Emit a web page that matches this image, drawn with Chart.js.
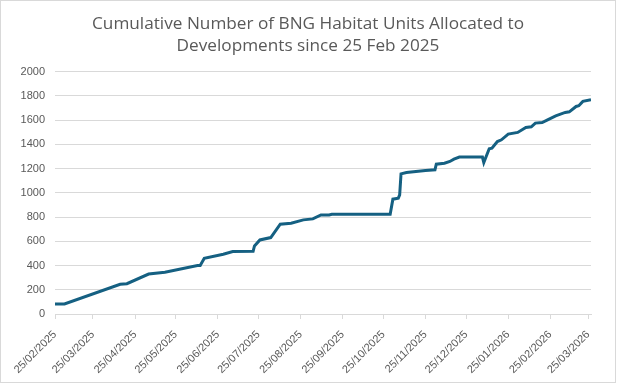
<!DOCTYPE html>
<html>
<head>
<meta charset="utf-8">
<script src="https://cdn.jsdelivr.net/npm/chart.js@4.4.1/dist/chart.umd.min.js"></script>
<style>
  html, body { margin: 0; padding: 0; background: #fff; }
  #wrap { width: 616px; height: 383px; border: 1px solid #d9d9d9; box-sizing: border-box; }
  canvas { display: block; }
</style>
</head>
<body>
<div id="wrap"><canvas id="chart" width="614" height="381"></canvas></div>
<script>
// allocation dates and cumulative habitat units
const dates = [
  '2025-02-25', '2025-03-04', '2025-04-14', '2025-04-19', '2025-05-05', '2025-05-17',
  '2025-06-10', '2025-06-12', '2025-06-15', '2025-06-29', '2025-07-06', '2025-07-21',
  '2025-07-22', '2025-07-26', '2025-08-03', '2025-08-10', '2025-08-18', '2025-08-27',
  '2025-09-03', '2025-09-09', '2025-09-15', '2025-09-17', '2025-10-30', '2025-11-01',
  '2025-11-05', '2025-11-06', '2025-11-07', '2025-11-11', '2025-11-18', '2025-11-25',
  '2025-12-02', '2025-12-03', '2025-12-09', '2025-12-13', '2025-12-16', '2025-12-20',
  '2026-01-06', '2026-01-07', '2026-01-11', '2026-01-13', '2026-01-17', '2026-01-20',
  '2026-01-25', '2026-02-01', '2026-02-07', '2026-02-11', '2026-02-14', '2026-02-19',
  '2026-02-23', '2026-03-01', '2026-03-08', '2026-03-11', '2026-03-16', '2026-03-18',
  '2026-03-21', '2026-03-27'
];
const units = [
  83, 83, 245, 250, 330, 345,
  400, 400, 460, 493, 515, 518,
  562, 611, 631, 741, 750, 777,
  785, 818, 818, 824, 824, 948,
  956, 983, 1157, 1168, 1176, 1184,
  1190, 1237, 1245, 1259, 1278, 1295,
  1295, 1250, 1364, 1369, 1424, 1438,
  1485, 1499, 1540, 1545, 1576, 1581,
  1603, 1636, 1664, 1669, 1713, 1719,
  1755, 1769
];
const tickLabels = [
  '25/02/2025', '25/03/2025', '25/04/2025', '25/05/2025', '25/06/2025', '25/07/2025',
  '25/08/2025', '25/09/2025', '25/10/2025', '25/11/2025', '25/12/2025', '25/01/2026',
  '25/02/2026', '25/03/2026'
];
const yTicks = [0, 200, 400, 600, 800, 1000, 1200, 1400, 1600, 1800, 2000];

const start = Date.UTC(2025, 1, 25);
const dayOf = (y, m, d) => Math.round((Date.UTC(y, m - 1, d) - start) / 86400000);
const isoDay = (s) => { const p = s.split('-').map(Number); return dayOf(p[0], p[1], p[2]); };
const labelDay = (s) => { const p = s.split('/').map(Number); return dayOf(p[2], p[1], p[0]); };

const points = dates.map((d, i) => ({ x: isoDay(d), y: units[i] }));
const tickDays = tickLabels.map(labelDay);

const grey = '#595959';
const tickFont = { family: '"Liberation Sans", Arial, sans-serif', size: 11 };

new Chart(document.getElementById('chart'), {
  type: 'line',
  data: {
    datasets: [{
      data: points,
      borderColor: '#156082',
      borderWidth: 3,
      pointRadius: 0,
      tension: 0,
      fill: false
    }]
  },
  options: {
    responsive: false,
    animation: false,
    layout: { padding: 0 },
    plugins: {
      legend: { display: false },
      tooltip: { enabled: false },
      title: {
        display: true,
        text: ['Cumulative Number of BNG Habitat Units Allocated to', 'Developments since 25 Feb 2025'],
        color: grey,
        font: { family: '"Open Sans", sans-serif', size: 17.2, weight: 'normal', lineHeight: 1.3 },
        padding: { top: 12, bottom: 14 }
      }
    },
    scales: {
      x: {
        type: 'linear',
        min: 0,
        max: 395,
        afterBuildTicks: (s) => { s.ticks = tickDays.map(v => ({ value: v })); },
        afterFit: (s) => { s.height = 68; },
        ticks: {
          autoSkip: false,
          minRotation: 45,
          maxRotation: 45,
          padding: 9,
          color: grey,
          font: tickFont,
          callback: (v) => tickLabels[tickDays.indexOf(v)]
        },
        grid: { drawOnChartArea: false, color: '#d9d9d9', tickLength: 5 },
        border: { color: '#d9d9d9' }
      },
      y: {
        min: 0,
        max: 2000,
        afterBuildTicks: (s) => { s.ticks = yTicks.map(v => ({ value: v })); },
        afterFit: (s) => { s.width = 54; },
        ticks: { color: grey, font: tickFont, padding: 10, callback: (v) => String(v) },
        grid: { color: '#d9d9d9', drawTicks: false },
        border: { display: false }
      },
      // empty right-hand gutter so the title stays centred on the whole canvas
      gutter: {
        position: 'right',
        display: true,
        afterFit: (s) => { s.width = 24; },
        ticks: { display: false },
        grid: { display: false },
        border: { display: false }
      }
    }
  }
});
</script>
</body>
</html>
